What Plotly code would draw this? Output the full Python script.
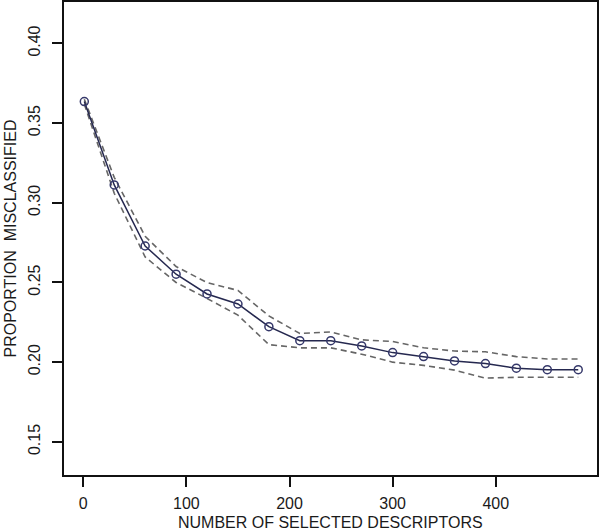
import plotly.graph_objects as go

n_desc = [1, 30, 60, 90, 120, 150, 180, 210, 240, 270, 300, 330, 360, 390, 420, 450, 480]
prop_mis = [0.3635, 0.3112, 0.2729, 0.2552, 0.2428, 0.2365, 0.2223, 0.2135, 0.2135, 0.2102,
            0.2060, 0.2035, 0.2008, 0.1991, 0.1962, 0.1953, 0.1953]
upper = [0.3650, 0.3160, 0.2790, 0.2600, 0.2500, 0.2450, 0.2290, 0.2180, 0.2190, 0.2140,
         0.2130, 0.2090, 0.2070, 0.2065, 0.2035, 0.2020, 0.2020]
lower = [0.3620, 0.3060, 0.2660, 0.2500, 0.2400, 0.2295, 0.2110, 0.2090, 0.2090, 0.2050,
         0.2000, 0.1980, 0.1950, 0.1900, 0.1905, 0.1905, 0.1905]

x_ticks = [0, 100, 200, 300, 400]
y_ticks = [0.15, 0.20, 0.25, 0.30, 0.35, 0.40]
y_tick_text = ["0.15", "0.20", "0.25", "0.30", "0.35", "0.40"]

fig = go.Figure()
fig.add_trace(go.Scatter(x=n_desc, y=upper, mode="lines",
                         line=dict(color="#666666", width=1.6, dash="6px,4px"), showlegend=False))
fig.add_trace(go.Scatter(x=n_desc, y=lower, mode="lines",
                         line=dict(color="#666666", width=1.6, dash="6px,4px"), showlegend=False))
fig.add_trace(go.Scatter(x=n_desc, y=prop_mis, mode="lines+markers",
                         line=dict(color="#25284f", width=1.5),
                         marker=dict(symbol="circle-open", size=8, color="#35386a",
                                     line=dict(width=1.5)),
                         showlegend=False))

font = dict(family="Liberation Sans, Arial, sans-serif", size=16, color="#1a1a1a")
fig.update_layout(
    width=600, height=532,
    margin=dict(l=64, r=3, t=2, b=57),
    paper_bgcolor="white", plot_bgcolor="white",
    font=font,
    xaxis=dict(range=[-18.7, 498.2], tickvals=x_ticks, ticks="outside", ticklen=10,
               tickwidth=1.5, tickcolor="#111", showline=True, linecolor="#111",
               linewidth=1.5, mirror=True, showgrid=False, zeroline=False,
               ticklabelstandoff=3, automargin=False),
    yaxis=dict(range=[0.1292, 0.426], tickvals=y_ticks, ticktext=y_tick_text,
               tickangle=-90, ticks="outside", ticklen=10,
               tickwidth=1.5, tickcolor="#111", showline=True, linecolor="#111",
               linewidth=1.5, mirror=True, showgrid=False, zeroline=False,
               ticklabelstandoff=6, automargin=False),
    annotations=[
        dict(text="NUMBER OF SELECTED DESCRIPTORS", xref="paper", yref="paper",
             x=0.5, y=-47 / 473, xanchor="center", yanchor="middle",
             showarrow=False, font=font),
        dict(text="PROPORTION  MISCLASSIFIED", xref="paper", yref="paper",
             x=-54 / 533, y=0.5, xanchor="center", yanchor="middle", textangle=-90,
             showarrow=False, font=font),
    ],
)
fig.write_html("out.html", config={"displayModeBar": False},
               post_script="document.body.style.margin='0';document.body.style.padding='0';")
